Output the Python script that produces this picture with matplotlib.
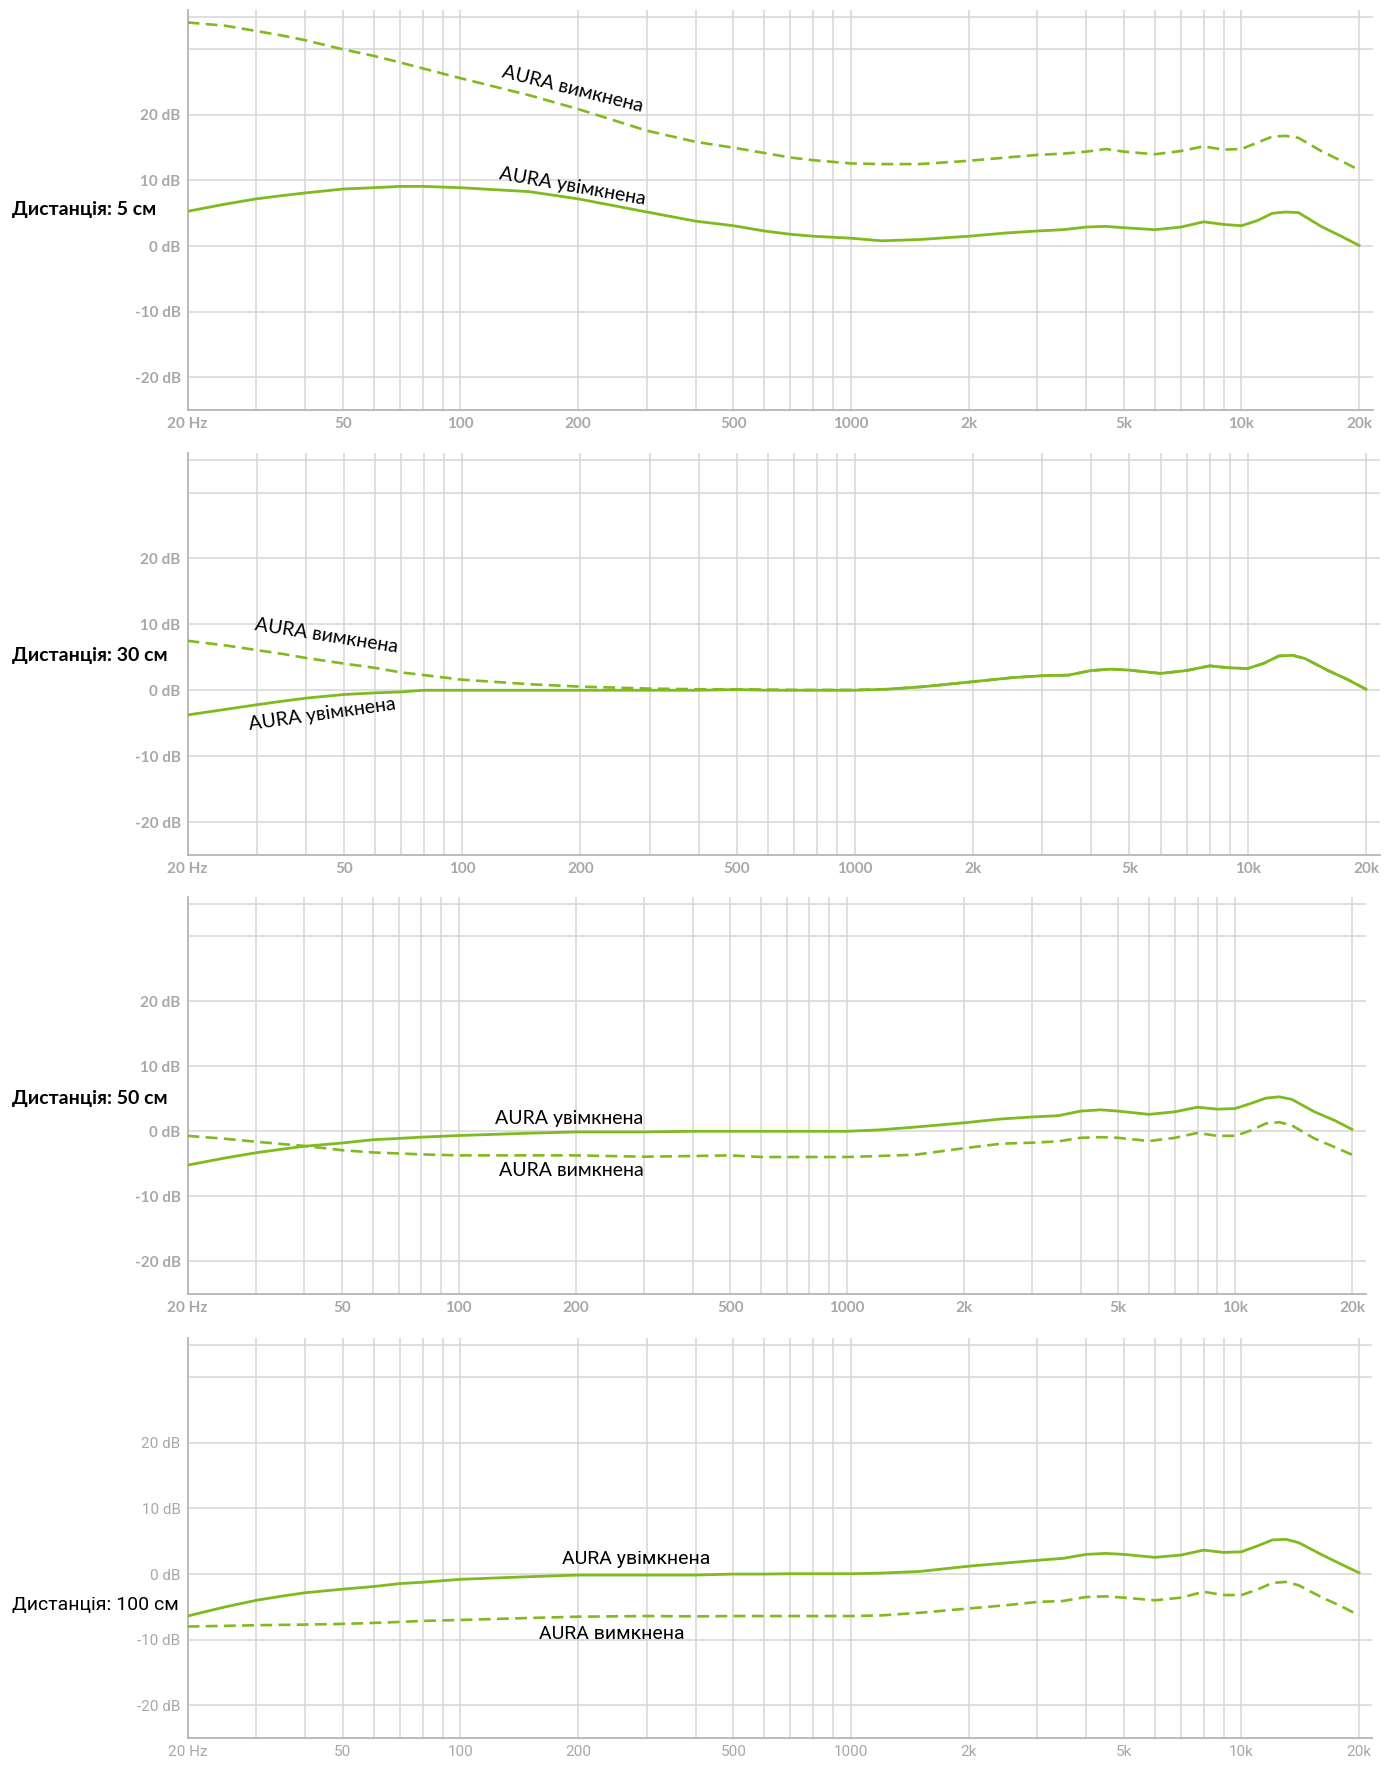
import matplotlib
matplotlib.use("Agg")
import matplotlib.pyplot as plt
from matplotlib import transforms
from matplotlib.ticker import FixedLocator, FixedFormatter, NullFormatter

# frequency points (Hz)
FREQ_HZ = [20, 25, 30, 35, 40, 50, 60, 70, 80, 100, 150, 200, 300, 400, 500, 600, 700, 800,
           1000, 1200, 1500, 2000, 2500, 3000, 3500, 4000, 4500, 5000, 6000, 7000,
           8000, 9000, 10000, 11000, 12000, 13000, 14000, 16000, 18000, 20000]

# dB, "AURA увімкнена" (solid) / "AURA вимкнена" (dashed) per distance
ON_5CM = [5.3, 6.4, 7.2, 7.7, 8.1, 8.7, 8.9, 9.1, 9.1, 8.9, 8.3, 7.2, 5.2, 3.8, 3.1, 2.3, 1.8, 1.5,
          1.2, 0.8, 1.0, 1.5, 2.0, 2.3, 2.5, 2.9, 3.0, 2.8, 2.5, 2.9,
          3.7, 3.3, 3.1, 3.9, 5.0, 5.2, 5.1, 3.0, 1.5, 0.1]
OFF_5CM = [34.1, 33.6, 32.8, 32.1, 31.4, 30.0, 29.0, 28.0, 27.1, 25.6, 23.0, 20.9, 17.6, 15.9, 15.0, 14.2, 13.5, 13.1,
           12.6, 12.5, 12.5, 13.0, 13.5, 13.9, 14.1, 14.4, 14.8, 14.4, 14.0, 14.5,
           15.2, 14.7, 14.8, 15.8, 16.7, 16.8, 16.5, 14.5, 13.0, 11.6]

ON_30CM = [-3.75, -2.9, -2.2, -1.65, -1.2, -0.65, -0.4, -0.25, 0.0, 0.0, 0.0, 0.0, 0.0, 0.0, 0.1, 0.0, 0.0, 0.0,
           0.0, 0.15, 0.55, 1.3, 1.9, 2.2, 2.3, 3.0, 3.2, 3.05, 2.55, 3.0,
           3.7, 3.4, 3.3, 4.1, 5.2, 5.3, 4.8, 3.0, 1.6, 0.15]
OFF_30CM = [7.5, 6.8, 6.1, 5.5, 4.9, 4.05, 3.4, 2.7, 2.3, 1.6, 0.9, 0.55, 0.25, 0.15, 0.15, 0.1, 0.05, 0.05,
            0.05, 0.15, 0.55, 1.3, 1.9, 2.2, 2.3, 3.0, 3.2, 3.05, 2.55, 3.0,
            3.7, 3.4, 3.3, 4.1, 5.2, 5.3, 4.8, 3.0, 1.6, 0.15]

ON_50CM = [-5.2, -4.1, -3.3, -2.75, -2.3, -1.8, -1.3, -1.1, -0.9, -0.65, -0.3, -0.1, -0.1, 0.0, 0.0, 0.0, 0.0, 0.0,
           0.0, 0.2, 0.65, 1.3, 1.9, 2.2, 2.4, 3.1, 3.3, 3.1, 2.6, 3.0,
           3.7, 3.4, 3.5, 4.3, 5.1, 5.3, 4.9, 3.0, 1.7, 0.3]
OFF_50CM = [-0.7, -1.15, -1.6, -1.95, -2.25, -2.9, -3.25, -3.4, -3.55, -3.7, -3.7, -3.7, -3.9, -3.8, -3.7, -3.95, -3.95, -3.95,
            -3.95, -3.8, -3.6, -2.6, -1.9, -1.75, -1.55, -1.0, -0.9, -1.0, -1.5, -1.0,
            -0.25, -0.7, -0.7, 0.15, 1.2, 1.4, 0.9, -1.1, -2.4, -3.6]

ON_100CM = [-6.4, -5.0, -4.0, -3.35, -2.85, -2.3, -1.9, -1.45, -1.25, -0.8, -0.4, -0.15, -0.15, -0.15, 0.0, 0.0, 0.05, 0.05,
            0.05, 0.15, 0.4, 1.2, 1.7, 2.1, 2.4, 3.0, 3.15, 3.0, 2.55, 2.9,
            3.65, 3.3, 3.4, 4.3, 5.2, 5.3, 4.8, 3.0, 1.5, 0.2]
OFF_100CM = [-8.0, -7.9, -7.8, -7.75, -7.7, -7.6, -7.45, -7.3, -7.15, -7.0, -6.7, -6.5, -6.4, -6.45, -6.4, -6.4, -6.4, -6.4,
             -6.4, -6.3, -5.9, -5.25, -4.75, -4.25, -4.1, -3.5, -3.4, -3.6, -4.0, -3.6,
             -2.7, -3.2, -3.2, -2.35, -1.35, -1.2, -1.7, -3.5, -4.9, -6.3]

DISTANCES = ["Дистанція: 5 см", "Дистанція: 30 см", "Дистанція: 50 см", "Дистанція: 100 см"]
LABEL_ON = "AURA увімкнена"
LABEL_OFF = "AURA вимкнена"

X_TICKS = [20, 50, 100, 200, 500, 1000, 2000, 5000, 10000, 20000]
X_TICK_LABELS = ["20 Hz", "50", "100", "200", "500", "1000", "2k", "5k", "10k", "20k"]
X_MINOR = [30, 40, 60, 70, 80, 90, 300, 400, 600, 700, 800, 900,
           3000, 4000, 6000, 7000, 8000, 9000]
Y_TICKS = [-20, -10, 0, 10, 20]
Y_TICK_LABELS = ["-20 dB", "-10 dB", "0 dB", "10 dB", "20 dB"]
Y_MINOR = [30, 35]

# --- layout (pixels of the 1396x1772 canvas) ---
W, H = 1396, 1772
LEFT = 187.5
# top, bottom, x of 20 kHz, right end of the plot area
BOXES = [(10, 410, 1359, 1373), (453, 855, 1366, 1380),
         (897, 1294, 1352, 1366), (1338, 1738, 1359, 1372)]
# where the curve labels sit: (freq, dB, rotation)
ANN_OFF = [(194, 24.0, -14), (45, 8.2, -9), (195, -6.0, 0), (244, -9.2, 0)]
ANN_ON = [(194, 9.1, -10), (44, -3.6, 8), (192, 2.0, 0), (282, 2.3, 0)]
DIST_Y = [5.5, 5.3, 5.0, -4.7]

GREEN = "#7fba1f"
GRID = "#d6d6d6"
TICK_GRAY = "#a8a8a8"

plt.rcParams["font.family"] = ["Lato", "Noto Sans", "DejaVu Sans"]
NARROW = ["Roboto", "DejaVu Sans"]

series = [(ON_5CM, OFF_5CM), (ON_30CM, OFF_30CM), (ON_50CM, OFF_50CM), (ON_100CM, OFF_100CM)]

fig = plt.figure(figsize=(W / 100, H / 100), dpi=100)
fig.patch.set_facecolor("white")

for i, ((on, off), (top, bottom, x20k, right)) in enumerate(zip(series, BOXES)):
    ax = fig.add_axes([LEFT / W, 1 - bottom / H, (right - LEFT) / W, (bottom - top) / H])
    xmax = 20 * 10 ** (3 * (right - LEFT) / (x20k - LEFT))
    ax.set_xscale("log")
    ax.set_xlim(20, xmax)
    ax.set_ylim(-25, 36)

    narrow = i == 3
    fam = NARROW if narrow else plt.rcParams["font.family"]
    weight = "normal" if narrow else "bold"

    ax.xaxis.set_major_locator(FixedLocator(X_TICKS))
    ax.xaxis.set_major_formatter(FixedFormatter(X_TICK_LABELS))
    ax.xaxis.set_minor_locator(FixedLocator(X_MINOR))
    ax.xaxis.set_minor_formatter(NullFormatter())
    ax.yaxis.set_major_locator(FixedLocator(Y_TICKS))
    ax.yaxis.set_major_formatter(FixedFormatter(Y_TICK_LABELS))
    ax.yaxis.set_minor_locator(FixedLocator(Y_MINOR))
    ax.yaxis.set_minor_formatter(NullFormatter())
    ax.tick_params(which="both", length=0)
    ax.tick_params(axis="x", pad=5)
    ax.tick_params(axis="y", pad=5)
    for lab in ax.get_xticklabels() + ax.get_yticklabels():
        lab.set_color(TICK_GRAY)
        lab.set_fontsize(11)
        lab.set_fontweight(weight)
        lab.set_family(fam)

    ax.grid(which="both", color=GRID, linewidth=1.1)
    ax.set_axisbelow(True)
    for s in ("top", "right"):
        ax.spines[s].set_visible(False)
    for s in ("left", "bottom"):
        ax.spines[s].set_color("#b5b5b5")
        ax.spines[s].set_linewidth(1.3)

    ax.plot(FREQ_HZ, off, color=GREEN, lw=1.9, ls=(0, (4.5, 2.4)), zorder=3)
    ax.plot(FREQ_HZ, on, color=GREEN, lw=2.0, zorder=4)

    fx, fy, rot = ANN_OFF[i]
    ax.text(fx, fy, LABEL_OFF, rotation=rot, rotation_mode="anchor", ha="center", va="center",
            fontsize=14, color="black", family=fam)
    fx, fy, rot = ANN_ON[i]
    ax.text(fx, fy, LABEL_ON, rotation=rot, rotation_mode="anchor", ha="center", va="center",
            fontsize=14, color="black", family=fam)

    tr = transforms.blended_transform_factory(fig.transFigure, ax.transData)
    ax.text(12 / W, DIST_Y[i], DISTANCES[i], transform=tr, ha="left", va="center",
            fontsize=14, fontweight=weight, color="black", family=fam, clip_on=False)

fig.savefig("out.png", dpi=100, facecolor="white")
